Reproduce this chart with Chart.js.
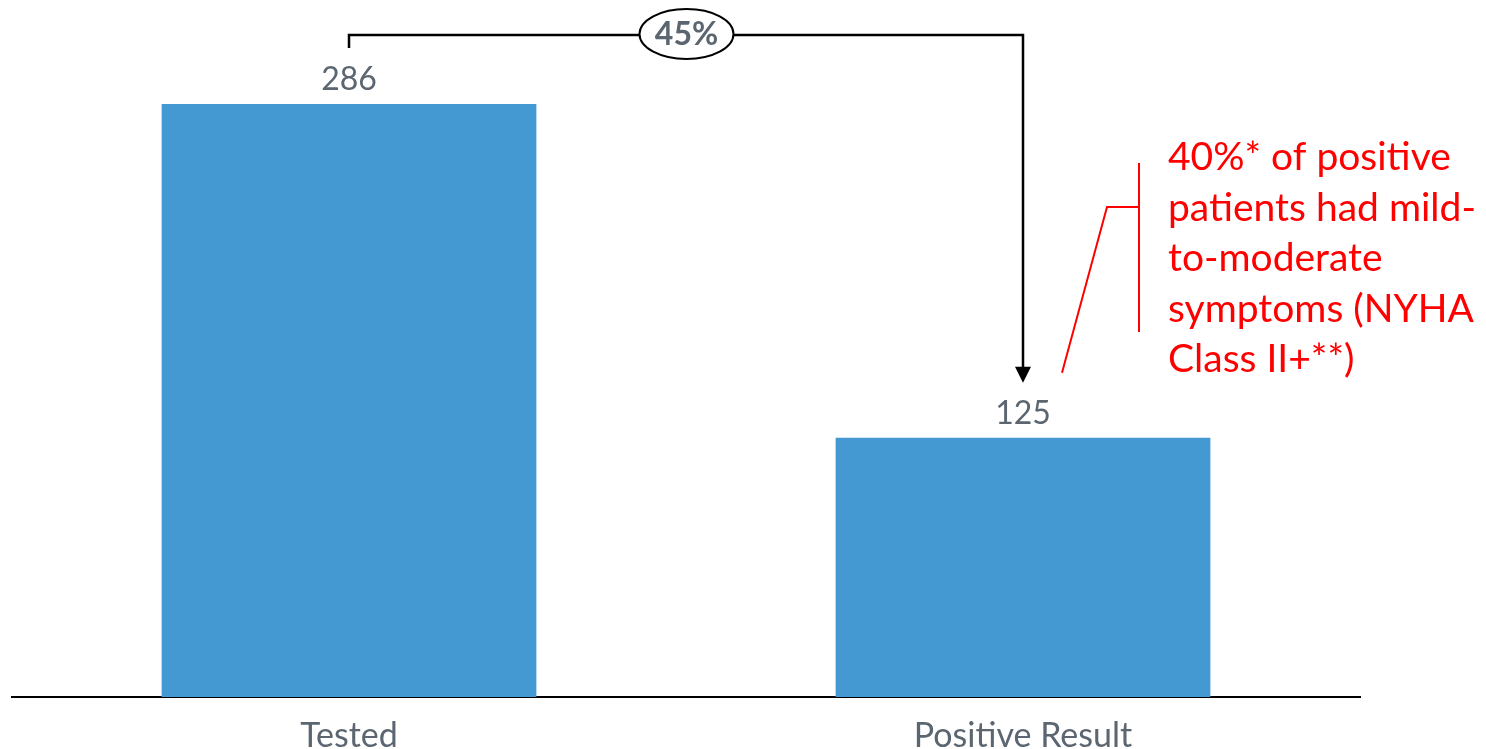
<!DOCTYPE html>
<html>
<head>
<meta charset="utf-8">
<script src="https://cdn.jsdelivr.net/npm/chart.js@4.4.0/dist/chart.umd.min.js"></script>
<style>
  html, body { margin: 0; padding: 0; background: #fff; }
  #wrap { width: 1486px; height: 749px; }
</style>
</head>
<body>
<div id="wrap"><canvas id="funnel"></canvas></div>
<script>
const categories = ['Tested', 'Positive Result'];
const patients = [286, 125];
const conversionLabel = '45%';
const noteLines = ['40%* of positive', 'patients had mild-', 'to-moderate', 'symptoms (NYHA', 'Class II+**)'];

const FONT = 'Lato, "Open Sans", sans-serif';
const GREY = '#5b6670';

// value labels, the tested -> positive bracket and the red side note
const annotations = {
  id: 'annotations',
  afterDatasetsDraw(chart) {
    const ctx = chart.ctx;
    const bars = chart.getDatasetMeta(0).data;
    const a = bars[0], b = bars[1];

    ctx.save();
    ctx.fillStyle = GREY;
    ctx.font = '32px ' + FONT;
    ctx.textAlign = 'center';
    ctx.textBaseline = 'alphabetic';
    bars.forEach((bar, i) => {
      ctx.fillText(String(patients[i]), bar.x, bar.y - 14);
    });

    // bracket
    const topY = 35;
    const tipY = b.y - 55;
    ctx.strokeStyle = '#000';
    ctx.lineWidth = 2.5;
    ctx.beginPath();
    ctx.moveTo(a.x, a.y - 56);
    ctx.lineTo(a.x, topY);
    ctx.lineTo(b.x, topY);
    ctx.lineTo(b.x, tipY - 14);
    ctx.stroke();
    ctx.fillStyle = '#000';
    ctx.beginPath();
    ctx.moveTo(b.x - 8, tipY - 16);
    ctx.lineTo(b.x + 8, tipY - 16);
    ctx.lineTo(b.x, tipY);
    ctx.closePath();
    ctx.fill();

    // ellipse with percentage
    const cx = (a.x + b.x) / 2 + 0.5;
    ctx.beginPath();
    ctx.ellipse(cx, topY - 1, 47, 25, 0, 0, Math.PI * 2);
    ctx.fillStyle = '#fff';
    ctx.fill();
    ctx.lineWidth = 2;
    ctx.stroke();
    ctx.fillStyle = GREY;
    ctx.font = 'bold 32px ' + FONT;
    ctx.textBaseline = 'middle';
    ctx.fillText(conversionLabel, cx, topY);

    // red note
    ctx.strokeStyle = '#ff0000';
    ctx.lineWidth = 2;
    const bx = b.x + 116;
    ctx.beginPath();
    ctx.moveTo(bx, 163);
    ctx.lineTo(bx, 332);
    ctx.moveTo(bx, 207);
    ctx.lineTo(bx - 32, 207);
    ctx.lineTo(b.x + 39, b.y - 65);
    ctx.stroke();

    ctx.fillStyle = '#ff0000';
    ctx.font = '39px ' + FONT;
    ctx.textAlign = 'left';
    ctx.textBaseline = 'alphabetic';
    noteLines.forEach((line, i) => {
      ctx.fillText(line, bx + 29, 170 + i * 50.5);
    });
    ctx.restore();
  }
};

new Chart(document.getElementById('funnel'), {
  type: 'bar',
  data: {
    labels: categories,
    datasets: [{
      data: patients,
      backgroundColor: '#4599d2',
      barPercentage: 0.556,
      categoryPercentage: 1
    }]
  },
  options: {
    responsive: true,
    maintainAspectRatio: false,
    animation: false,
    layout: { padding: { left: 12, right: 126, top: 33.5, bottom: 0 } },
    plugins: { legend: { display: false }, tooltip: { enabled: false } },
    scales: {
      y: {
        display: false,
        min: 0,
        max: 320
      },
      x: {
        grid: { display: false },
        border: { display: true, color: '#000', width: 2 },
        ticks: {
          color: GREY,
          font: { family: FONT, size: 34 },
          padding: 11
        },
        afterFit(scale) { scale.height = 52; }
      }
    }
  },
  plugins: [annotations]
});
</script>
</body>
</html>
